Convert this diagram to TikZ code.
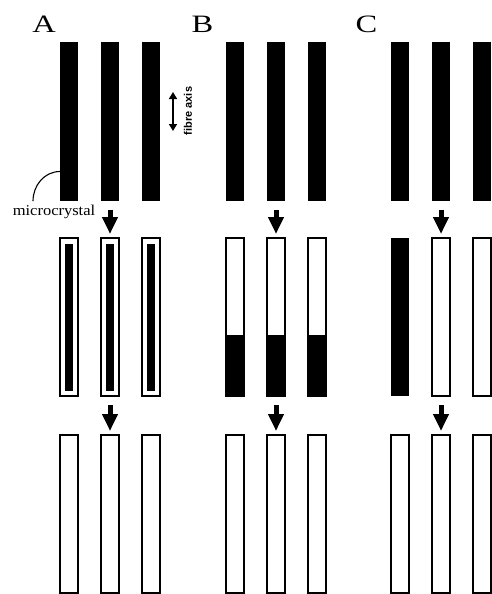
\documentclass[tikz,border=0pt]{standalone}
\usepackage{fontspec}
\setmainfont{Liberation Serif}
\newfontfamily\axisfont{Liberation Sans}
\usetikzlibrary{arrows.meta}

\tikzset{
fibre/.style={minimum width=18pt, minimum height=158pt, inner sep=0pt, outer sep=0pt},
darkfibre/.style={fibre, fill=black},
clearfibre/.style={fibre, draw, line width=1.3pt, fill=white},
core/.style={minimum width=8pt, minimum height=147pt, inner sep=0pt, fill=black},
fat/.style={line width=5pt, -{Triangle[width=15pt,length=17pt]}, shorten <=9pt, shorten >=4pt},
panel/.style={anchor=base, font=\fontsize{25}{25}\selectfont, xscale=1.3},
}

\begin{document}
\begin{tikzpicture}[x=1pt, y=-1pt]
\useasboundingbox (0,0) rectangle (492,594);

% panel A
\node(a1) [darkfibre] at(69,121.5) {};
\node(a2) [darkfibre] at(110,121.5) {};
\node(a3) [darkfibre] at(151,121.5) {};
\node(a4) [clearfibre] at(69,317) {};
\node(a5) [clearfibre] at(110,317) {};
\node(a6) [clearfibre] at(151,317) {};
\node(a4i) [core] at(a4) {};
\node(a5i) [core] at(a5) {};
\node(a6i) [core] at(a6) {};
\node(a7) [clearfibre] at(69,514) {};
\node(a8) [clearfibre] at(110,514) {};
\node(a9) [clearfibre] at(151,514) {};

% panel B
\node(b1) [darkfibre] at(235,121.5) {};
\node(b2) [darkfibre] at(276,121.5) {};
\node(b3) [darkfibre] at(317,121.5) {};
\node(b4) [clearfibre] at(235,317) {};
\node(b5) [clearfibre] at(276,317) {};
\node(b6) [clearfibre] at(317,317) {};
\node(b7) [clearfibre] at(235,514) {};
\node(b8) [clearfibre] at(276,514) {};
\node(b9) [clearfibre] at(317,514) {};

\fill (b4.south west) rectangle ([yshift=61pt]b4.south east);
\fill (b5.south west) rectangle ([yshift=61pt]b5.south east);
\fill (b6.south west) rectangle ([yshift=61pt]b6.south east);

% panel C
\node(c1) [darkfibre] at(400,121.5) {};
\node(c2) [darkfibre] at(441,121.5) {};
\node(c3) [darkfibre] at(482,121.5) {};
\node(c4) [darkfibre] at(400,317) {};
\node(c5) [clearfibre] at(441,317) {};
\node(c6) [clearfibre] at(482,317) {};
\node(c7) [clearfibre] at(400,514) {};
\node(c8) [clearfibre] at(441,514) {};
\node(c9) [clearfibre] at(482,514) {};

\draw[fat] (a2) -- (a5);
\draw[fat] (a5) -- (a8);
\draw[fat] (b2) -- (b5);
\draw[fat] (b5) -- (b8);
\draw[fat] (c2) -- (c5);
\draw[fat] (c5) -- (c8);

\node(la) [panel] at(44,33) {A};
\node(lb) [panel] at(202.5,33) {B};
\node(lc) [panel] at(366.5,33) {C};

\node(mc) [anchor=base, font=\fontsize{15}{15}\selectfont, xscale=1.1] at(54,215) {microcrystal};
\draw[line width=1.1pt] 
([xshift=-21pt]mc.north) to[out=90, in=180] 
([yshift=-50pt]a1.west)
;

\node(fa) [rotate=90, font=\axisfont\bfseries\fontsize{11}{11}\selectfont] at(188,111) {fibre axis};
\coordinate(fatop) at(173,92);
\coordinate(fabot) at(173,131);
\draw[line width=1.6pt, {Triangle[width=8pt,length=7pt]}-{Triangle[width=8pt,length=7pt]}] 
(fatop) -- (fabot);

\end{tikzpicture}
\end{document}
